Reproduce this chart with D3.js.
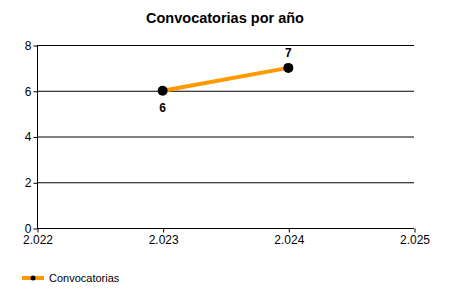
<!DOCTYPE html>
<html>
<head>
<meta charset="utf-8">
<script src="https://cdn.jsdelivr.net/npm/d3@7"></script>
<style>
  body { margin: 0; background: #fff; }
  text { font-family: "Liberation Sans", Arial, sans-serif; }
</style>
</head>
<body>
<div id="chart"></div>
<script>
// data
var years = [2023, 2024];
var convocatorias = [6, 7];
var seriesName = "Convocatorias";
var xTicks = [2022, 2023, 2024, 2025];
var yTicks = [0, 2, 4, 6, 8];

var w = 450, h = 300;
var margin = {top: 45, right: 36, bottom: 72, left: 37};

var svg = d3.select("#chart").append("svg")
  .attr("width", w).attr("height", h);

var x = d3.scaleLinear().domain([2022, 2025]).range([margin.left, w - margin.right]);
var y = d3.scaleLinear().domain([0, 8]).range([h - margin.bottom, margin.top]);

// title
svg.append("text")
  .attr("x", 225).attr("y", 23)
  .attr("text-anchor", "middle")
  .style("font-size", "14.5px").style("font-weight", "bold")
  .text("Convocatorias por año");

// gridlines
svg.append("g").selectAll("line")
  .data(yTicks).enter().append("line")
  .attr("x1", margin.left).attr("x2", w - margin.right)
  .attr("y1", function(d){ return y(d) + 0.5; })
  .attr("y2", function(d){ return y(d) + 0.5; })
  .style("stroke", "#000").style("stroke-width", 1);

// y axis
var yAxis = svg.append("g")
  .attr("transform", "translate(" + (margin.left + 0.5) + ",0.5)")
  .call(d3.axisLeft(y).tickValues(yTicks).tickSize(4).tickPadding(2).tickFormat(d3.format("d")));
yAxis.selectAll("text").style("font-size", "12px").style("fill", "#000");
yAxis.selectAll("line, path").style("stroke", "#000");
yAxis.select(".domain").attr("d", "M0," + y(8) + "V" + y(0));

// x axis
var xAxis = svg.append("g")
  .attr("transform", "translate(0.5," + (y(0) + 0.5) + ")")
  .call(d3.axisBottom(x).tickValues(xTicks).tickSize(4).tickPadding(3)
    .tickFormat(function(d){ return "2." + String(d).slice(1); }));
xAxis.selectAll("text").style("font-size", "12px").style("fill", "#000");
xAxis.selectAll("line, path").style("stroke", "#000");
xAxis.select(".domain").remove();

// line
var pts = years.map(function(d, i){ return {year: d, value: convocatorias[i]}; });
var line = d3.line().x(function(d){ return x(d.year); }).y(function(d){ return y(d.value); });
svg.append("path")
  .datum(pts)
  .attr("d", line)
  .style("fill", "none")
  .style("stroke", "#FF9900")
  .style("stroke-width", 4);

svg.append("g").selectAll("circle")
  .data(pts).enter().append("circle")
  .attr("cx", function(d){ return x(d.year); })
  .attr("cy", function(d){ return y(d.value); })
  .attr("r", 5)
  .style("fill", "#000");

// data labels: first below, last above
svg.append("g").selectAll("text")
  .data(pts).enter().append("text")
  .attr("x", function(d){ return x(d.year); })
  .attr("y", function(d, i){ return y(d.value) + (i === 0 ? 21 : -11); })
  .attr("text-anchor", "middle")
  .style("font-size", "12px").style("font-weight", "bold")
  .text(function(d){ return d.value; });

// legend
var lg = svg.append("g").attr("transform", "translate(22,278)");
lg.append("line").attr("x1", 0).attr("x2", 22).attr("y1", 0).attr("y2", 0)
  .style("stroke", "#FF9900").style("stroke-width", 4);
lg.append("circle").attr("cx", 11).attr("cy", 0).attr("r", 2.5).style("fill", "#000");
lg.append("text").attr("x", 27).attr("y", 4)
  .style("font-size", "11px")
  .text(seriesName);
</script>
</body>
</html>
